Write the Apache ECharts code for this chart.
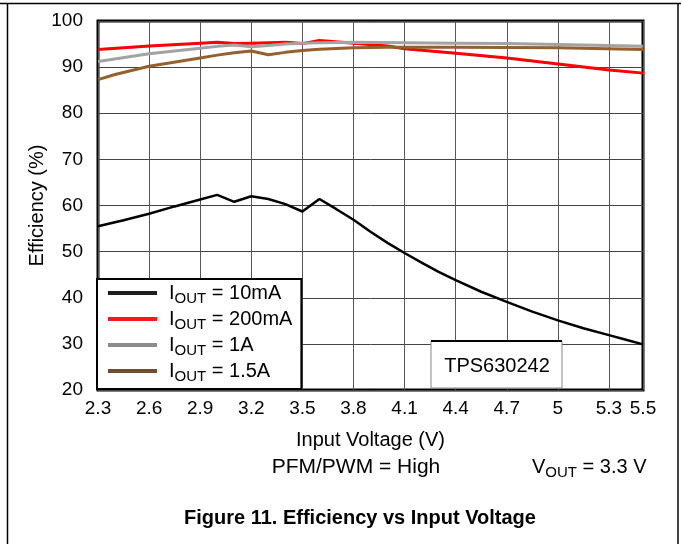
<!DOCTYPE html>
<html>
<head>
<meta charset="utf-8">
<script src="https://cdn.jsdelivr.net/npm/echarts@6/dist/echarts.min.js"></script>
<style>
html,body{margin:0;padding:0;background:#fff;}
#chart{width:681px;height:544px;}
</style>
</head>
<body>
<div id="chart"></div>
<script>
// ---- data ----
const xTicks = [2.3, 2.6, 2.9, 3.2, 3.5, 3.8, 4.1, 4.4, 4.7, 5, 5.3, 5.5];
const yTicks = [20, 30, 40, 50, 60, 70, 80, 90, 100];
const seriesNames = ['10mA', '200mA', '1A', '1.5A'];

const vin10mA = [2.3, 2.45, 2.6, 2.75, 2.9, 3.0, 3.1, 3.2, 3.3, 3.4, 3.5, 3.6, 3.7, 3.8, 3.9, 4.0, 4.1, 4.2, 4.3, 4.4, 4.55, 4.7, 4.85, 5.0, 5.15, 5.3, 5.4, 5.5];
const eff10mA = [55.5, 56.8, 58.2, 59.8, 61.3, 62.3, 60.8, 62.0, 61.4, 60.3, 58.7, 61.4, 59.2, 56.9, 54.3, 51.9, 49.7, 47.6, 45.6, 43.8, 41.3, 39.1, 37.0, 35.1, 33.4, 31.9, 30.9, 29.9];

const vin200mA = [2.3, 2.6, 2.9, 3.0, 3.1, 3.2, 3.3, 3.4, 3.5, 3.6, 3.8, 4.0, 4.1, 4.4, 4.7, 5.0, 5.3, 5.5];
const eff200mA = [93.8, 94.6, 95.2, 95.4, 95.1, 95.2, 95.3, 95.4, 95.1, 95.8, 95.2, 94.6, 94.0, 93.0, 92.0, 90.7, 89.4, 88.7];

const vin1A = [2.3, 2.6, 2.9, 3.0, 3.1, 3.2, 3.3, 3.4, 3.5, 3.6, 3.8, 4.1, 4.4, 4.7, 5.0, 5.3, 5.5];
const eff1A = [91.2, 92.9, 94.1, 94.5, 94.8, 94.4, 94.7, 95.0, 95.2, 95.3, 95.4, 95.3, 95.2, 95.1, 94.9, 94.7, 94.5];

const vin1p5A = [2.3, 2.4, 2.6, 2.9, 3.0, 3.1, 3.2, 3.3, 3.4, 3.5, 3.6, 3.8, 4.0, 4.4, 5.0, 5.5];
const eff1p5A = [87.3, 88.4, 90.2, 92.0, 92.6, 93.1, 93.5, 92.7, 93.2, 93.6, 93.9, 94.2, 94.3, 94.3, 94.2, 93.8];

// ---- styling ----
const FONT = '"Liberation Sans", Arial, sans-serif';
const lineColors = ['#000000', '#ff0000', '#a3a3a3', '#96602c'];
const legendColors = ['#1e1e1e', '#ed1c24', '#8c8c8c', '#6b4f2e'];
const lineWidths = [2.5, 3, 3, 3];

function pairs(xs, ys) { return xs.map((x, i) => [x, ys[i]]); }
const seriesData = [pairs(vin10mA, eff10mA), pairs(vin200mA, eff200mA), pairs(vin1A, eff1A), pairs(vin1p5A, eff1p5A)];

const chart = echarts.init(document.getElementById('chart'), null, {renderer: 'canvas'});

const option = {
  animation: false,
  backgroundColor: '#fff',
  textStyle: {fontFamily: FONT},
  title: {
    text: 'Figure 11. Efficiency vs Input Voltage',
    left: 184, top: 508,
    padding: 0,
    textStyle: {fontFamily: FONT, fontSize: 20, fontWeight: 'bold', color: '#000'}
  },
  grid: {
    left: 98, top: 21, width: 545, height: 369,
    show: true, borderColor: '#000', borderWidth: 3, backgroundColor: 'transparent'
  },
  xAxis: {
    type: 'value', min: 2.3, max: 5.5,
    name: 'Input Voltage (V)', nameLocation: 'middle', nameGap: 40, nameMoveOverlap: false,
    nameTextStyle: {fontFamily: FONT, fontSize: 20, color: '#000'},
    axisLine: {show: false},
    axisTick: {show: false, customValues: xTicks},
    axisLabel: {customValues: xTicks, fontFamily: FONT, fontSize: 19, color: '#000', margin: 9,
      formatter: v => String(v), hideOverlap: false},
    splitLine: {show: true, lineStyle: {color: '#555', width: 1}}
  },
  yAxis: {
    type: 'value', min: 20, max: 100, interval: 10,
    name: 'Efficiency (%)', nameLocation: 'middle', nameGap: 51, nameMoveOverlap: false,
    nameTextStyle: {fontFamily: FONT, fontSize: 20, color: '#000'},
    axisLine: {show: false},
    axisTick: {show: false},
    axisLabel: {fontFamily: FONT, fontSize: 19, color: '#000', margin: 15},
    splitLine: {show: true, lineStyle: {color: '#444', width: 1}}
  },
  legend: {
    orient: 'vertical', left: 97, top: 279,
    backgroundColor: '#fff', borderColor: '#000', borderWidth: 2,
    padding: [4, 9, 5, 11],
    itemGap: 3, itemWidth: 49, itemHeight: 4, icon: 'rect',
    data: seriesNames.map((n, i) => ({name: n, itemStyle: {color: legendColors[i]}})),
    formatter: n => '{i|I}{s|OUT}{t| = ' + n + '}',
    textStyle: {
      fontFamily: FONT, color: '#000',
      rich: {
        i: {fontFamily: FONT, fontSize: 20, color: '#000', padding: [0, 0, 0, 7]},
        s: {fontFamily: FONT, fontSize: 15, color: '#000', padding: [11, 0, 0, 0]},
        t: {fontFamily: FONT, fontSize: 20, color: '#000'}
      }
    }
  },
  series: seriesNames.map((n, i) => ({
    name: n, type: 'line', data: seriesData[i],
    showSymbol: false, symbol: 'none',
    lineStyle: {color: lineColors[i], width: lineWidths[i]},
    itemStyle: {color: lineColors[i]},
    z: 2 + i
  })),
  graphic: [
    {type: 'line', shape: {x1: 0, y1: 3.5, x2: 681, y2: 3.5}, style: {stroke: '#000', lineWidth: 1.5}, silent: true},
    {type: 'line', shape: {x1: 7.5, y1: 3, x2: 7.5, y2: 544}, style: {stroke: '#000', lineWidth: 1.5}, silent: true},
    {type: 'line', shape: {x1: 678, y1: 3, x2: 678, y2: 544}, style: {stroke: '#000', lineWidth: 1.5}, silent: true},
    {type: 'rect', z: 100, shape: {x: 431, y: 341, width: 131, height: 47},
      style: {fill: '#fff', stroke: '#888', lineWidth: 1}},
    {type: 'line', z: 101, shape: {x1: 431, y1: 341, x2: 562, y2: 341}, style: {stroke: '#000', lineWidth: 2}},
    {type: 'text', z: 102, style: {text: 'TPS630242', x: 497, y: 366, align: 'center', verticalAlign: 'middle',
      font: '20px ' + FONT, fill: '#000'}},
    {type: 'text', z: 102, style: {text: 'PFM/PWM = High', x: 356, y: 467, align: 'center', verticalAlign: 'middle',
      font: '21px ' + FONT, fill: '#000'}},
    {type: 'text', z: 102, style: {
      text: '{a|V}{b|OUT}{a| = 3.3 V}', x: 532, y: 467, align: 'left', verticalAlign: 'middle',
      rich: {
        a: {fontFamily: FONT, fontSize: 20, color: '#000'},
        b: {fontFamily: FONT, fontSize: 15, color: '#000', padding: [11, 0, 0, 0]}
      }
    }}
  ]
};
chart.setOption(option);
</script>
</body>
</html>
